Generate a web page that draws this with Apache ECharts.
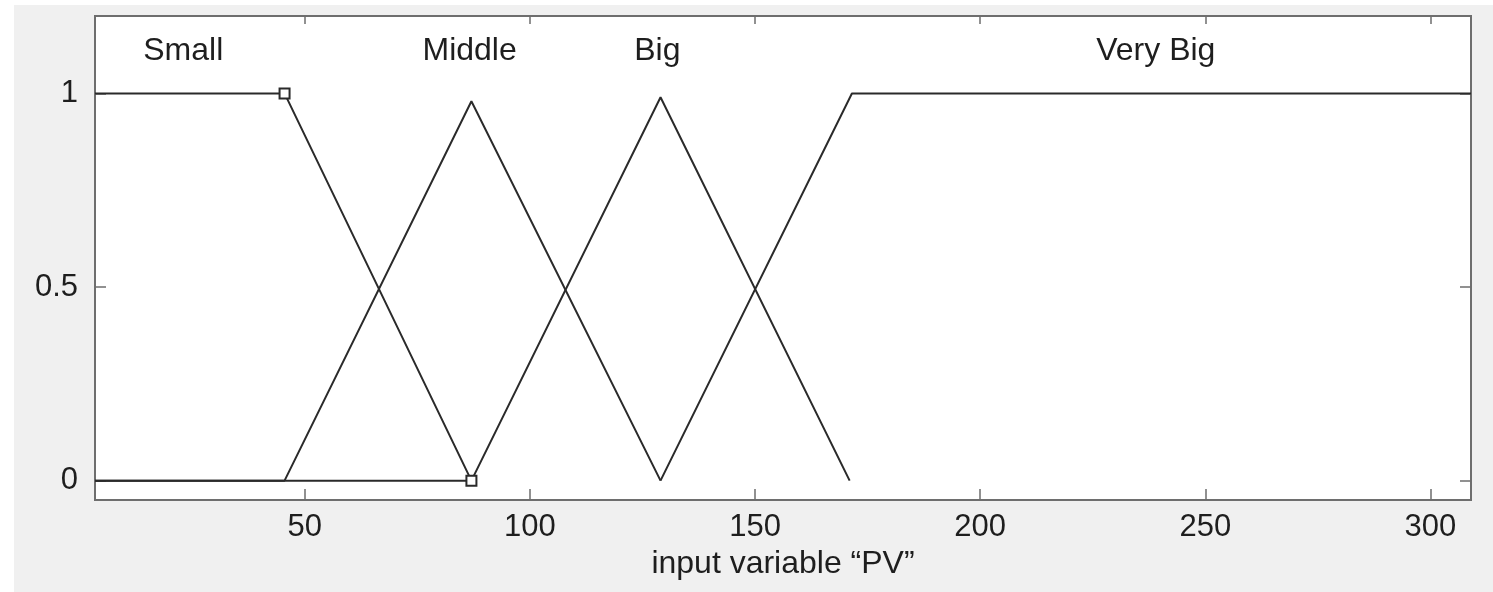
<!DOCTYPE html>
<html>
<head>
<meta charset="utf-8">
<script src="https://cdn.jsdelivr.net/npm/echarts@6/dist/echarts.min.js"></script>
<style>
  html, body { margin: 0; padding: 0; width: 1493px; height: 592px; background: #ffffff; overflow: hidden; }
  #bg { position: absolute; left: 14px; top: 5px; width: 1479px; height: 587px; background: #f0f0f0; }
  #chart { position: absolute; left: 0; top: 0; width: 1493px; height: 592px; }
</style>
</head>
<body>
<div id="bg"></div>
<div id="chart"></div>
<script>
// ---- data ----
const xRange = [3.4, 309];
const yRange = [-0.05, 1.2];
const xTickValues = [50, 100, 150, 200, 250, 300];
const yTickValues = [0, 0.5, 1];
const axisTitle = 'input variable \u201cPV\u201d';

const mfNames = ['Small', 'Middle', 'Big', 'Very Big'];
const labelX = [23, 86.6, 128.3, 239];
const labelY = [1.11, 1.11, 1.11, 1.11];

const smallX = [3.4, 45.5, 87];
const smallY = [1, 1, 0];
const middleX = [3.4, 45.5, 87, 129];
const middleY = [0, 0, 0.98, 0];
const bigX = [3.4, 87, 129, 171];
const bigY = [0, 0, 0.99, 0];
const veryBigX = [129, 171.5, 309];
const veryBigY = [0, 1, 1];

const handleX = [45.5, 87];
const handleY = [1, 0];

// ---- chart ----
const zip = (xs, ys) => xs.map((x, i) => [x, ys[i]]);
const FONT = 'Liberation Sans, Arial, Helvetica, sans-serif';
const frameColor = '#6e6e6e';
const lineColor = '#2a2a2a';
const textColor = '#1e1e1e';

function lineSeries(name, xs, ys, w) {
  return {
    name: name, type: 'line', data: zip(xs, ys), showSymbol: false,
    symbol: 'none', animation: false, silent: true,
    lineStyle: { color: lineColor, width: w }
  };
}

const chart = echarts.init(document.getElementById('chart'), null, { renderer: 'canvas' });
chart.setOption({
  backgroundColor: 'transparent',
  animation: false,
  grid: { left: 95, right: 22, top: 16, bottom: 92, show: true, backgroundColor: '#ffffff', borderColor: frameColor, borderWidth: 2 },
  xAxis: [
    {
      type: 'value', min: xRange[0], max: xRange[1], position: 'bottom',
      name: axisTitle, nameLocation: 'middle', nameGap: 46,
      nameTextStyle: { fontFamily: FONT, fontSize: 32, color: textColor },
      axisLine: { show: true, onZero: false, lineStyle: { color: frameColor, width: 2 } },
      axisTick: { show: true, inside: true, length: 11, customValues: xTickValues, lineStyle: { color: frameColor, width: 1.5 } },
      axisLabel: { show: true, customValues: xTickValues, fontFamily: FONT, fontSize: 31, color: textColor, margin: 12 },
      splitLine: { show: false }
    },
    {
      type: 'value', min: xRange[0], max: xRange[1], position: 'top',
      axisLine: { show: true, onZero: false, lineStyle: { color: frameColor, width: 2 } },
      axisTick: { show: true, inside: true, length: 8, customValues: xTickValues, lineStyle: { color: frameColor, width: 1.5 } },
      axisLabel: { show: false },
      splitLine: { show: false }
    }
  ],
  yAxis: [
    {
      type: 'value', min: yRange[0], max: yRange[1], position: 'left',
      axisLine: { show: true, onZero: false, lineStyle: { color: frameColor, width: 2 } },
      axisTick: { show: true, inside: true, length: 11, customValues: yTickValues, lineStyle: { color: frameColor, width: 1.5 } },
      axisLabel: { show: true, customValues: yTickValues, fontFamily: FONT, fontSize: 31, color: textColor, margin: 17 },
      splitLine: { show: false }
    },
    {
      type: 'value', min: yRange[0], max: yRange[1], position: 'right',
      axisLine: { show: true, onZero: false, lineStyle: { color: frameColor, width: 2 } },
      axisTick: { show: true, inside: true, length: 11, customValues: yTickValues, lineStyle: { color: frameColor, width: 1.5 } },
      axisLabel: { show: false },
      splitLine: { show: false }
    }
  ],
  series: [
    lineSeries(mfNames[1], middleX, middleY, 2),
    lineSeries(mfNames[2], bigX, bigY, 2),
    lineSeries(mfNames[3], veryBigX, veryBigY, 2),
    lineSeries(mfNames[0], smallX, smallY, 2),
    {
      type: 'scatter', data: zip(handleX, handleY), symbol: 'rect', symbolSize: 10,
      itemStyle: { color: '#ffffff', borderColor: lineColor, borderWidth: 2, opacity: 1 },
      silent: true, animation: false, z: 5
    },
    {
      type: 'scatter', symbolSize: 0, silent: true, animation: false,
      itemStyle: { opacity: 1 },
      data: labelX.map((x, i) => ({ value: [x, labelY[i]], name: mfNames[i] })),
      label: { show: true, position: 'inside', formatter: p => p.name, fontFamily: FONT, fontSize: 32, color: textColor, opacity: 1 }
    }
  ]
});
</script>
</body>
</html>
